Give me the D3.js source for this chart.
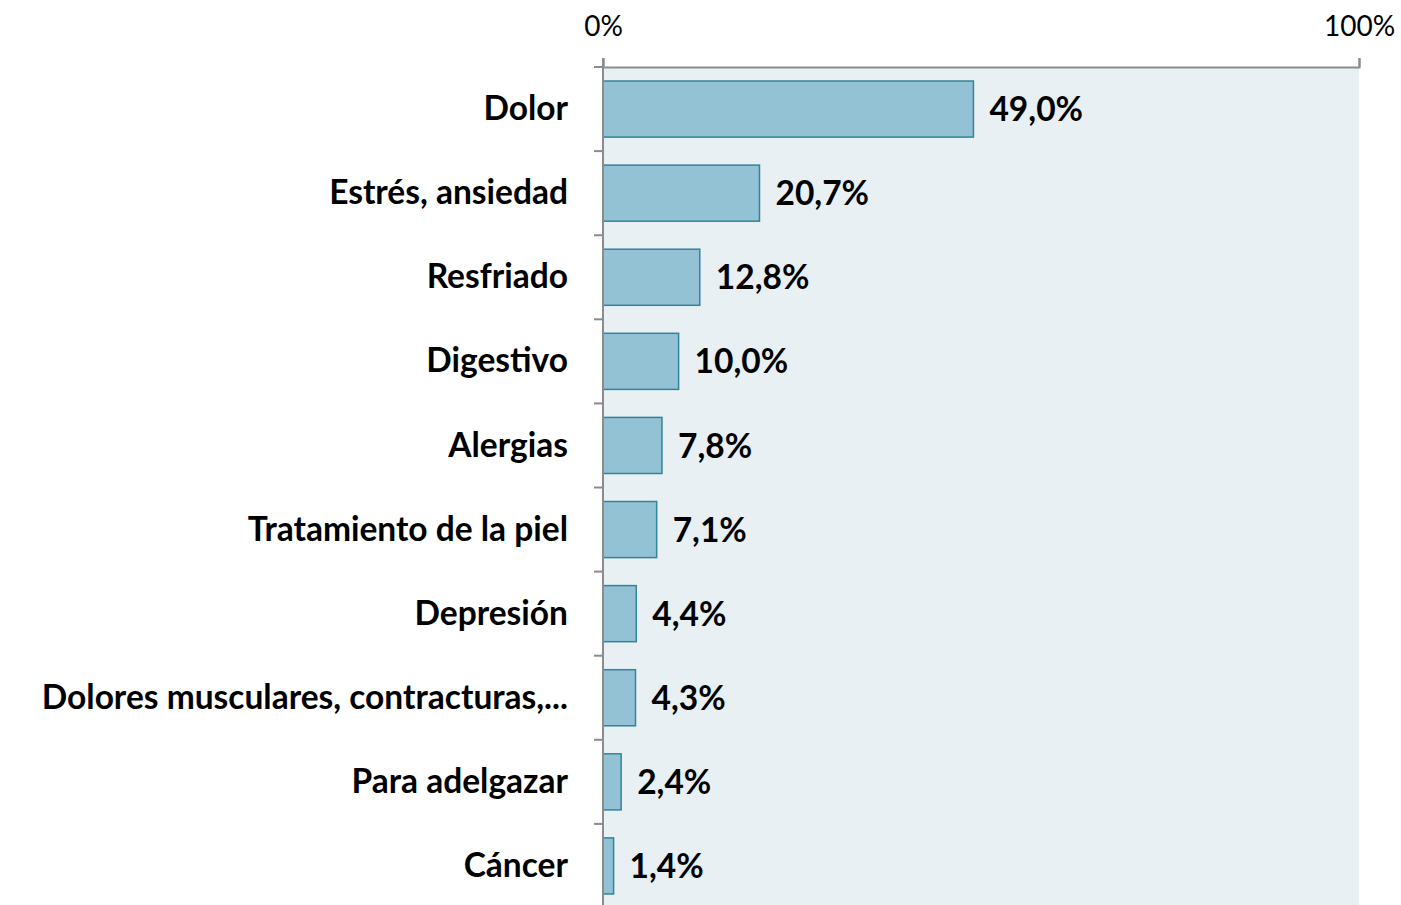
<!DOCTYPE html>
<html>
<head>
<meta charset="utf-8">
<script src="https://cdn.jsdelivr.net/npm/d3@7"></script>
<style>
  body { margin: 0; background: #fff; }
  svg { display: block; font-family: Lato, "Open Sans", sans-serif; }
</style>
</head>
<body>
<div id="chart"></div>
<script>
const categories = [
  "Dolor",
  "Estrés, ansiedad",
  "Resfriado",
  "Digestivo",
  "Alergias",
  "Tratamiento de la piel",
  "Depresión",
  "Dolores musculares, contracturas,...",
  "Para adelgazar",
  "Cáncer"
];
const values = [49.0, 20.7, 12.8, 10.0, 7.8, 7.1, 4.4, 4.3, 2.4, 1.4];
const tickValues = [0, 100];

const width = 1401;
const height = 905;
const margin = { top: 67, left: 603, right: 42 };
const plotBottom = 908; // plot runs past the bottom edge of the picture

const svg = d3.select("#chart")
  .append("svg")
  .attr("width", width)
  .attr("height", height);

const x = d3.scaleLinear()
  .domain([0, 100])
  .range([margin.left, width - margin.right]);

const y = d3.scaleBand()
  .domain(categories)
  .range([margin.top, plotBottom])
  .paddingInner(0.333)
  .paddingOuter(0.1665);

// plot background
svg.append("rect")
  .attr("x", x(0))
  .attr("y", margin.top)
  .attr("width", x(100) - x(0))
  .attr("height", plotBottom - margin.top)
  .attr("fill", "#e8f0f4");

// bars
svg.append("g")
  .selectAll("rect")
  .data(values)
  .enter().append("rect")
  .attr("x", x(0))
  .attr("y", (d, i) => y(categories[i]))
  .attr("width", d => x(d) - x(0))
  .attr("height", y.bandwidth())
  .attr("fill", "#92c2d4")
  .attr("stroke", "#31849b")
  .attr("stroke-width", 1.5);

// value labels
svg.append("g")
  .selectAll("text")
  .data(values)
  .enter().append("text")
  .attr("x", d => x(d) + 16)
  .attr("y", (d, i) => y(categories[i]) + y.bandwidth() / 2)
  .attr("dy", "0.36em")
  .attr("font-size", "33.5px")
  .attr("font-weight", "bold")
  .attr("fill", "#000")
  .text(d => d.toFixed(1).replace(".", ",") + "%");

// top axis
const xAxis = d3.axisTop(x)
  .tickValues(tickValues)
  .tickSize(9)
  .tickPadding(22)
  .tickFormat(d => d + "%");

const gx = svg.append("g")
  .attr("transform", `translate(0,${margin.top})`)
  .call(xAxis);
gx.select(".domain").attr("stroke", "#8c8c8c").attr("stroke-width", 2);
gx.selectAll(".tick line").attr("stroke", "#8c8c8c").attr("stroke-width", 2);
gx.selectAll(".tick text")
  .attr("font-family", "Lato, sans-serif")
  .attr("font-size", "28px")
  .attr("fill", "#000");

// left axis line with ticks between categories
svg.append("line")
  .attr("x1", x(0)).attr("x2", x(0))
  .attr("y1", margin.top - 9).attr("y2", plotBottom)
  .attr("stroke", "#8c8c8c")
  .attr("stroke-width", 2);

const step = y.step();
const boundaries = d3.range(categories.length + 1).map(i => y(categories[0]) - y.paddingOuter() * step + i * step);
svg.append("g")
  .selectAll("line")
  .data(boundaries)
  .enter().append("line")
  .attr("x1", x(0) - 9).attr("x2", x(0))
  .attr("y1", d => d).attr("y2", d => d)
  .attr("stroke", "#8c8c8c")
  .attr("stroke-width", 2);

// category labels
svg.append("g")
  .selectAll("text")
  .data(categories)
  .enter().append("text")
  .attr("x", 568)
  .attr("y", d => y(d) + y.bandwidth() / 2)
  .attr("dy", "0.33em")
  .attr("text-anchor", "end")
  .attr("font-size", "33.5px")
  .attr("font-weight", "bold")
  .attr("fill", "#000")
  .text(d => d);
</script>
</body>
</html>
